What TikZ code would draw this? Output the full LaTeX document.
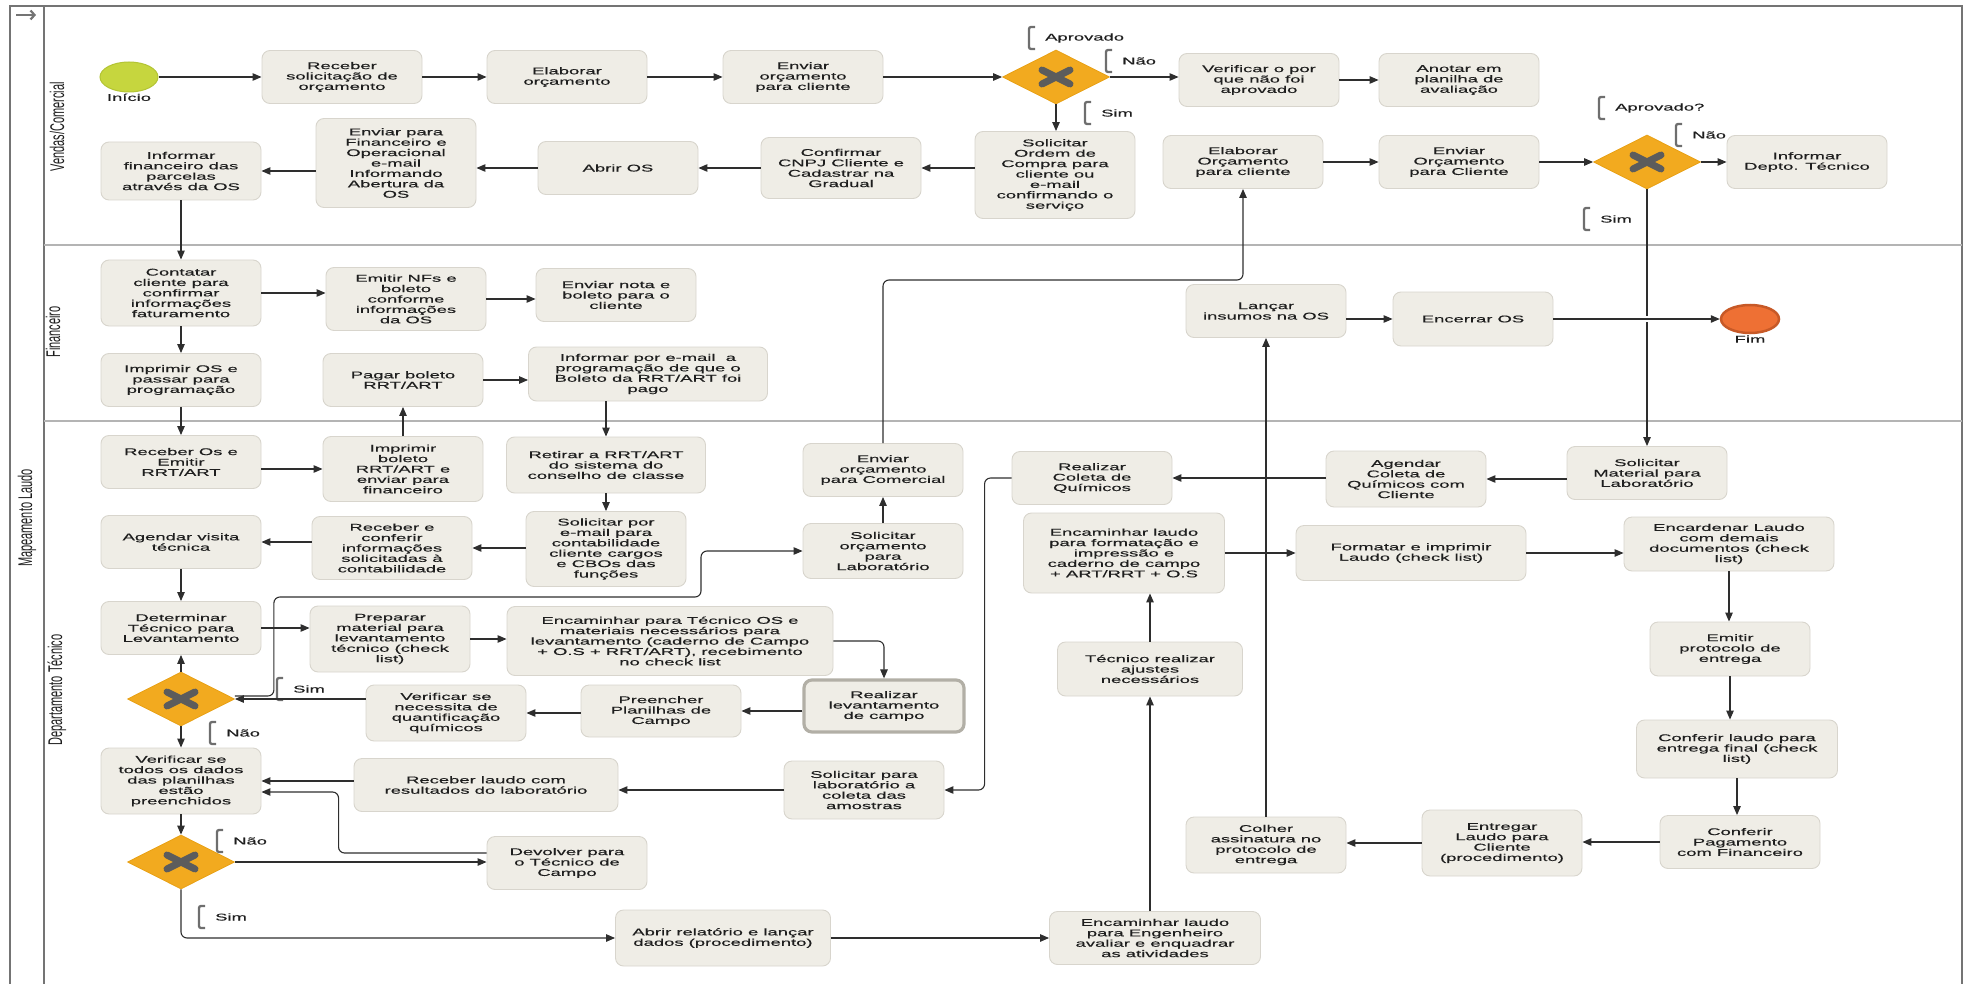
\documentclass[tikz,border=0pt]{standalone}
\usepackage{graphicx}
\usepackage{fontspec}
\setmainfont{Liberation Sans}[FakeStretch=1.88, FakeBold=0.3]
\newfontfamily\lanefont{Liberation Sans}
\usetikzlibrary{arrows.meta,shapes.geometric}

\definecolor{boxfill}{HTML}{EFEDE6}
\definecolor{boxline}{HTML}{D8D5CD}
\definecolor{subline}{HTML}{B2AFA6}
\definecolor{gwfill}{HTML}{F2AA1F}
\definecolor{gwline}{HTML}{E8A116}
\definecolor{xmark}{HTML}{5C5C5C}
\definecolor{startfill}{HTML}{C6D63E}
\definecolor{startline}{HTML}{B3C434}
\definecolor{endfill}{HTML}{EE7034}
\definecolor{endline}{HTML}{C75927}
\definecolor{flowc}{HTML}{2E2E2E}
\definecolor{framec}{HTML}{747474}
\definecolor{lanec}{HTML}{B4B4B4}
\definecolor{textc}{HTML}{1E1E1E}
\definecolor{brackc}{HTML}{6E6E6E}

\newcommand{\taskfont}{\fontsize{9.8}{10.4}\selectfont}
\newcommand{\lanetext}[1]{\lanefont\fontsize{11}{12}\selectfont\scalebox{1}[1.8]{#1}}

\tikzset{
  task/.style={rectangle, rounded corners=8, draw=boxline, fill=boxfill, line width=0.9,
    align=center, minimum width=160, minimum height=53, inner sep=2, text=textc, font=\taskfont},
  subtask/.style={task, draw=subline, line width=3.2},
  gateway/.style={diamond, aspect=2, draw=gwline, fill=gwfill, line width=0.8,
    minimum width=107, minimum height=54, inner sep=0,
    path picture={
      \draw[xmark, line width=7, line cap=round]
        ([shift={(-14,-7)}]path picture bounding box.center) -- ++(28,14)
        ([shift={(-14,7)}]path picture bounding box.center) -- ++(28,-14);
    }},
  startev/.style={ellipse, draw=startline, fill=startfill, line width=1,
    minimum width=58, minimum height=30, inner sep=0},
  endev/.style={ellipse, draw=endline, fill=endfill, line width=2.5,
    minimum width=58, minimum height=28, inner sep=0},
  evlabel/.style={font=\taskfont, text=textc, inner sep=1},
  flow/.style={draw=flowc, line width=1.1, rounded corners=6, -{Triangle[length=9,width=7.5]}},
  condtext/.style={font=\taskfont, text=textc, anchor=west, inner sep=1},
  bracket/.style={draw=brackc, line width=2.3, rounded corners=2},
  lanelabel/.style={rotate=90, inner sep=0, text=textc},
}

% condition label: bracket + text
\newcommand{\condlabel}[4]{%
  \draw[bracket] (#2+6,#3-11) -- (#2,#3-11) -- (#2,#3+11) -- (#2+6,#3+11);
  \node[condtext] (#1) at (#2+15,#3) {#4};
}

\begin{document}
\begin{tikzpicture}[x=1pt, y=-1pt]
\useasboundingbox (0,0) rectangle (1972,984);

% pool and lanes
\draw[framec, line width=2.6] (10,984) -- (10,6) -- (1962,6) -- (1962,984);
\draw[framec, line width=2] (44,6) -- (44,984);
\draw[lanec, line width=1.5] (44,245) -- (1962,245) (44,421) -- (1962,421);
\draw[framec, line width=2.2, -{Straight Barb[length=4,width=9]}] (16,15) -- (36,15);
\node[lanelabel] (lnMapa) at (27,518) {\lanetext{Mapeamento Laudo}};
\node[lanelabel] (lnVendas) at (57,127) {\lanetext{Vendas/Comercial}};
\node[lanelabel] (lnFin) at (53,332) {\lanetext{Financeiro}};
\node[lanelabel] (lnDep) at (57,690) {\lanetext{Departamento Técnico}};

% Vendas/Comercial
\node[startev, label={[evlabel]below:Início}] (inicio) at (129,77) {};
\node[task] (rcv) at (342,77) {Receber\\solicitação de\\orçamento};
\node[task] (elab) at (567,77) {Elaborar\\orçamento};
\node[task] (envcli) at (803,77) {Enviar\\orçamento\\para cliente};
\node[gateway] (gw1) at (1056,77) {};
\node[task] (verif) at (1259,80) {Verificar o por\\que não foi\\aprovado};
\node[task] (anotar) at (1459,80) {Anotar em\\planilha de\\avaliação};
\node[task, minimum height=87] (solOC) at (1055,175) {Solicitar\\Ordem de\\Compra para\\cliente ou\\e-mail\\confirmando o\\serviço};
\node[task, minimum height=61] (cnpj) at (841,168) {Confirmar\\CNPJ Cliente e\\Cadastrar na\\Gradual};
\node[task] (abrir) at (618,168) {Abrir OS};
\node[task, minimum height=89] (envfin) at (396,163) {Enviar para\\Financeiro e\\Operacional\\e-mail\\Informando\\Abertura da\\OS};
\node[task, minimum height=58] (inffin) at (181,171) {Informar\\financeiro das\\parcelas\\através da OS};
\node[task] (elab2) at (1243,162) {Elaborar\\Orçamento\\para cliente};
\node[task] (envcli2) at (1459,162) {Enviar\\Orçamento\\para Cliente};
\node[gateway] (gw2) at (1647,162) {};
\node[task] (infdep) at (1807,162) {Informar\\Depto. Técnico};

% Financeiro
\node[task, minimum height=66] (contatar) at (181,293) {Contatar\\cliente para\\confirmar\\informações\\faturamento};
\node[task, minimum height=63] (emitir) at (406,299) {Emitir NFs e\\boleto\\conforme\\informações\\da OS};
\node[task] (envnota) at (616,295) {Enviar nota e\\boleto para o\\cliente};
\node[task] (imprOS) at (181,380) {Imprimir OS e\\passar para\\programação};
\node[task] (pagar) at (403,380) {Pagar boleto\\RRT/ART};
\node[task, minimum width=239, minimum height=54] (infemail) at (648,374) {Informar por e-mail \ a\\programação de que o\\Boleto da RRT/ART foi\\pago};
\node[task] (lancar) at (1266,311) {Lançar\\insumos na OS};
\node[task, minimum height=54] (encerrar) at (1473,319) {Encerrar OS};
\node[endev, label={[evlabel]below:Fim}] (fim) at (1750,319) {};

% Departamento Tecnico
\node[task] (rcvos) at (181,462) {Receber Os e\\Emitir\\RRT/ART};
\node[task, minimum height=65] (imprbol) at (403,469) {Imprimir\\boleto\\RRT/ART e\\enviar para\\financeiro};
\node[task, minimum width=199, minimum height=56] (retirar) at (606,465) {Retirar a RRT/ART\\do sistema do\\conselho de classe};
\node[task] (envorc) at (883,470) {Enviar\\orçamento\\para Comercial};
\node[task] (realcoleta) at (1092,478) {Realizar\\Coleta de\\Químicos};
\node[task, minimum height=56] (agendcoleta) at (1406,479) {Agendar\\Coleta de\\Químicos com\\Cliente};
\node[task] (solmat) at (1647,473) {Solicitar\\Material para\\Laboratório};
\node[task] (agendvis) at (181,542) {Agendar visita\\técnica};
\node[task, minimum height=63] (rcvconf) at (392,548) {Receber e\\conferir\\informações\\solicitadas à\\contabilidade};
\node[task, minimum height=75] (solemail) at (606,549) {Solicitar por\\e-mail para\\contabilidade\\cliente cargos\\e CBOs das\\funções};
\node[task, minimum height=55] (solorcLab) at (883,551) {Solicitar\\orçamento\\para\\Laboratório};
\node[task, minimum width=201, minimum height=80] (encform) at (1124,553) {Encaminhar laudo\\para formatação e\\impressão e\\caderno de campo\\+ ART/RRT + O.S};
\node[task, minimum width=230, minimum height=55] (formatar) at (1411,553) {Formatar e imprimir\\Laudo (check list)};
\node[task, minimum width=210, minimum height=54] (encard) at (1729,544) {Encardenar Laudo\\com demais\\documentos (check\\list)};
\node[task] (determ) at (181,628) {Determinar\\Técnico para\\Levantamento};
\node[task, minimum height=66] (prep) at (390,639) {Preparar\\material para\\levantamento\\técnico (check\\list)};
\node[task, minimum width=326, minimum height=69] (encTec) at (670,641) {Encaminhar para Técnico OS e\\materiais necessários para\\levantamento (caderno de Campo\\+ O.S + RRT/ART), recebimento\\no check list};
\node[task, minimum width=185, minimum height=54] (tecaj) at (1150,669) {Técnico realizar\\ajustes\\necessários};
\node[task, minimum height=54] (emitprot) at (1730,649) {Emitir\\protocolo de\\entrega};
\node[gateway] (gw3) at (181,699) {};
\node[task, minimum height=56] (verq) at (446,713) {Verificar se\\necessita de\\quantificação\\químicos};
\node[task, minimum height=52] (preench) at (661,711) {Preencher\\Planilhas de\\Campo};
\node[subtask, minimum height=52] (reallev) at (884,706) {Realizar\\levantamento\\de campo};
\node[task, minimum width=201, minimum height=58] (conflaudo) at (1737,749) {Conferir laudo para\\entrega final (check\\list)};
\node[task, minimum height=66] (verTodos) at (181,781) {Verificar se\\todos os dados\\das planilhas\\estão\\preenchidos};
\node[task, minimum width=264] (rcvlaudo) at (486,785) {Receber laudo com\\resultados do laboratório};
\node[task, minimum height=58] (solcoleta) at (864,790) {Solicitar para\\laboratório a\\coleta das\\amostras};
\node[task] (confpag) at (1740,842) {Conferir\\Pagamento\\com Financeiro};
\node[task, minimum height=66] (entregar) at (1502,843) {Entregar\\Laudo para\\Cliente\\(procedimento)};
\node[task, minimum height=56] (colher) at (1266,845) {Colher\\assinatura no\\protocolo de\\entrega};
\node[gateway] (gw4) at (181,862) {};
\node[task] (devolver) at (567,863) {Devolver para\\o Técnico de\\Campo};
\node[task, minimum width=215, minimum height=56] (abrirRel) at (723,938) {Abrir relatório e lançar\\dados (procedimento)};
\node[task, minimum width=211] (encEng) at (1155,938) {Encaminhar laudo\\para Engenheiro\\avaliar e enquadrar\\as atividades};

% gateway conditions
\condlabel{cAprov1}{1029}{38}{Aprovado}
\condlabel{cNao1}{1106}{61}{Não}
\condlabel{cSim1}{1085}{113}{Sim}
\condlabel{cAprov2}{1599}{108}{Aprovado?}
\condlabel{cNao2}{1676}{135}{Não}
\condlabel{cSim2}{1584}{219}{Sim}
\condlabel{cSim3}{277}{689}{Sim}
\condlabel{cNao3}{210}{733}{Não}
\condlabel{cNao4}{217}{841}{Não}
\condlabel{cSim4}{199}{917}{Sim}

% sequence flows
\draw[flow] (inicio) -- (rcv);
\draw[flow] (rcv) -- (elab);
\draw[flow] (elab) -- (envcli);
\draw[flow] (envcli) -- (gw1);
\draw[flow] (gw1.east) -- (gw1.east -| verif.west);
\draw[flow] (verif) -- (anotar);
\draw[flow] (gw1.south) -- (gw1.south |- solOC.north);
\draw[flow] (solOC.west |- cnpj.east) -- (cnpj.east);
\draw[flow] (cnpj) -- (abrir);
\draw[flow] (abrir.west) -- (abrir.west -| envfin.east);
\draw[flow] (envfin.west |- inffin.east) -- (inffin.east);
\draw[flow] (inffin) -- (contatar);
\draw[flow] (contatar.east) -- (contatar.east -| emitir.west);
\draw[flow] (emitir.east) -- (emitir.east -| envnota.west);
\draw[flow] (contatar) -- (imprOS);
\draw[flow] (imprOS) -- (rcvos);
\draw[flow] (imprbol.west -| rcvos.east) -- (imprbol.west);
\draw[flow] (imprbol) -- (pagar);
\draw[flow] (pagar.east) -- (pagar.east -| infemail.west);
\draw[flow] (retirar.north |- infemail.south) -- (retirar.north);
\draw[flow] (retirar) -- (solemail);
\draw[flow] (solemail.west |- rcvconf.east) -- (rcvconf.east);
\draw[flow] (rcvconf.west |- agendvis.east) -- (agendvis.east);
\draw[flow] (agendvis) -- (determ);
\draw[flow] (determ.east) -- (determ.east -| prep.west);
\draw[flow] (prep.east) -- (prep.east -| encTec.west);
\draw[flow] (encTec.east) -| (reallev.north);
\draw[flow] (reallev.west |- preench.east) -- (preench.east);
\draw[flow] (preench.west |- verq.east) -- (verq.east);
\draw[flow] (verq.west |- gw3.east) -- (gw3.east);
\draw[flow] (gw3) -- (determ);
\draw[flow] ([yshift=3pt]gw3.east) -- ++(39,0) |- (701,597) |- (solorcLab.west);
\draw[flow] (solorcLab) -- (envorc);
\draw[flow] (envorc.north) |- (1000,280) -| (elab2.south);
\draw[flow] (elab2) -- (envcli2);
\draw[flow] (envcli2) -- (gw2);
\draw[flow] (gw2) -- (infdep);
\draw[flow] (gw2) -- (solmat);
\draw[flow] (solmat.west |- agendcoleta.east) -- (agendcoleta.east);
\draw[flow] (agendcoleta.west |- realcoleta.east) -- (realcoleta.east);
\draw[flow] (realcoleta.west) -- ++(-27,0) |- (solcoleta.east);
\draw[flow] (solcoleta.west) -- (solcoleta.west -| rcvlaudo.east);
\draw[flow] (rcvlaudo.west |- verTodos.east) -- (verTodos.east);
\draw[flow] (gw3) -- (verTodos);
\draw[flow] (verTodos) -- (gw4);
\draw[flow] (gw4.east) -- (gw4.east -| devolver.west);
\draw[flow] ([yshift=10pt]devolver.west) -- ++(-148,0) |- ([yshift=-11pt]verTodos.east);
\draw[flow] (gw4.south) |- (abrirRel.west);
\draw[flow] (abrirRel) -- (encEng);
\draw[flow] (tecaj.south |- encEng.north) -- (tecaj.south);
\draw[flow] (tecaj.north) -- (tecaj.north |- encform.south);
\draw[flow] (encform) -- (formatar);
\draw[flow] (formatar.east) -- (formatar.east -| encard.west);
\draw[flow] (encard.south) -- (encard.south |- emitprot.north);
\draw[flow] (emitprot.south) -- (emitprot.south |- conflaudo.north);
\draw[flow] (conflaudo.south) -- (conflaudo.south |- confpag.north);
\draw[flow] (confpag.west) -- (confpag.west -| entregar.east);
\draw[flow] (entregar.west) -- (entregar.west -| colher.east);
\draw[flow] (colher) -- (lancar);
\draw[flow] (lancar.east |- encerrar.west) -- (encerrar.west);
\draw[flow, preaction={-, draw=white, line width=6, shorten <=60, shorten >=60}] (encerrar) -- (fim);
\end{tikzpicture}
\end{document}
